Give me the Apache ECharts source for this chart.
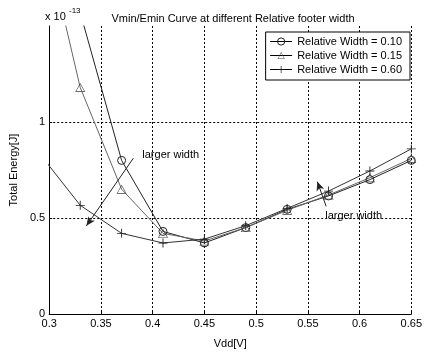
<!DOCTYPE html>
<html><head><meta charset="utf-8">
<script src="https://cdn.jsdelivr.net/npm/echarts@6/dist/echarts.min.js"></script>
<style>html,body{margin:0;padding:0;background:#fff}#c{width:425px;height:354px}</style>
</head><body><div id="c"></div>
<script>
var vdd = [0.29, 0.33, 0.37, 0.41, 0.45, 0.49, 0.53, 0.57, 0.61, 0.65];
var width010 = [null, 1.57, 0.80, 0.43, 0.37, 0.45, 0.545, 0.615, 0.70, 0.80];
var width015 = [2.10, 1.18, 0.65, 0.42, 0.38, 0.45, 0.54, 0.62, 0.71, 0.81];
var width060 = [0.84, 0.566, 0.42, 0.37, 0.39, 0.46, 0.55, 0.64, 0.745, 0.86];
var xTicks = [0.3, 0.35, 0.4, 0.45, 0.5, 0.55, 0.6, 0.65];
var yTicks = [0, 0.5, 1];
var seriesNames = ['Relative Width = 0.10', 'Relative Width = 0.15', 'Relative Width = 0.60'];

function pairs(v){ var o=[]; for(var i=0;i<vdd.length;i++){ if(v[i]!==null) o.push([vdd[i], v[i]]); } return o; }
var F = 'Liberation Sans, Arial, sans-serif';
var plusPath = 'path://M4.5,0h1v4.5h4.5v1h-4.5v4.5h-1v-4.5h-4.5v-1h4.5z';
var trianglePath = 'path://M50,0L100,90L0,90Z M50,13L10,83L90,83Z';
var chart = echarts.init(document.getElementById('c'), null, {renderer:'canvas'});
var opt = {
  animation:false,
  backgroundColor:'#fff',
  title:{text:'Vmin/Emin Curve at different Relative footer width', left:228, top:8, textAlign:'center',
    textStyle:{fontFamily:F, fontSize:11, fontWeight:'normal', color:'#000'}},
  grid:{left:45, right:10, top:26, bottom:34},
  legend:{right:15, top:32, orient:'vertical', itemGap:3, itemWidth:22, itemHeight:9,
    backgroundColor:'#fff', borderColor:'#000', borderWidth:1, padding:[4,8,5,4],
    itemStyle:{borderWidth:1}, lineStyle:{width:1, color:'#000'},
    textStyle:{fontFamily:F, fontSize:11, color:'#000'}, data:seriesNames},
  xAxis:{type:'value', min:0.3, max:0.65, interval:0.05, name:'Vdd[V]', nameLocation:'middle', nameGap:24,
    nameTextStyle:{fontFamily:F, fontSize:11, color:'#000'},
    axisLine:{lineStyle:{color:'#000'}}, axisTick:{inside:true, length:3, lineStyle:{color:'#000'}},
    axisLabel:{fontFamily:F, fontSize:11, color:'#000', margin:4,
      formatter:function(v){ for(var i=0;i<xTicks.length;i++){ if(Math.abs(v-xTicks[i])<1e-6) return String(xTicks[i]); } return ''; }},
    splitLine:{show:true, showMinLine:false, lineStyle:{type:[2,2], color:'#000', width:1}}},
  yAxis:{type:'value', min:0, max:1.5, interval:0.5, name:'Total Energy[J]', nameLocation:'middle', nameGap:26,
    nameTextStyle:{fontFamily:F, fontSize:11, color:'#000'},
    axisLine:{show:true, lineStyle:{color:'#000'}}, axisTick:{show:true, inside:true, length:3, lineStyle:{color:'#000'}},
    axisLabel:{fontFamily:F, fontSize:11, color:'#000', margin:4, showMaxLabel:false,
      formatter:function(v){ for(var i=0;i<yTicks.length;i++){ if(Math.abs(v-yTicks[i])<1e-6) return String(yTicks[i]); } return ''; }},
    splitLine:{show:true, showMinLine:false, showMaxLine:false, lineStyle:{type:[2,2], color:'#000', width:1}}},
  series:[
    {name:seriesNames[0], type:'line', data:pairs(width010), symbol:'circle', symbolSize:8, clip:true,
      lineStyle:{color:'#222', width:1}, itemStyle:{color:'rgba(255,255,255,0)', borderColor:'#222', borderWidth:1}},
    {name:seriesNames[1], type:'line', data:pairs(width015), symbol:trianglePath, symbolSize:[10,9], clip:true,
      lineStyle:{color:'#666', width:1}, itemStyle:{color:'#444', borderWidth:0}},
    {name:seriesNames[2], type:'line', data:pairs(width060), symbol:plusPath, symbolSize:9, clip:true,
      lineStyle:{color:'#333', width:1}, itemStyle:{color:'#222', borderWidth:0},
      markLine:{silent:true, symbol:['none','arrow'], symbolSize:[6,9], label:{show:false},
        lineStyle:{color:'#222', type:'solid', width:1},
        data:[
          [{coord:[0.3813,0.811]},{coord:[0.336,0.459]}],
          [{coord:[0.5677,0.561]},{coord:[0.5592,0.689]}]
        ]}}
  ]
};
chart.setOption(opt);
var p1 = chart.convertToPixel({gridIndex:0}, [0.39, 0.826]);
var p2 = chart.convertToPixel({gridIndex:0}, [0.5668, 0.51]);
chart.setOption({graphic:[
  {type:'text', left:45, top:11, style:{text:'x 10', font:'11px '+F, fill:'#000'}},
  {type:'text', left:69, top:7, style:{text:'-13', font:'8px '+F, fill:'#000'}},
  {type:'text', x:p1[0], y:p1[1], style:{text:'larger width', font:'11px '+F, fill:'#000', textVerticalAlign:'middle'}},
  {type:'text', x:p2[0], y:p2[1], style:{text:'larger width', font:'11px '+F, fill:'#000', textVerticalAlign:'middle'}}
]});
</script></body></html>
